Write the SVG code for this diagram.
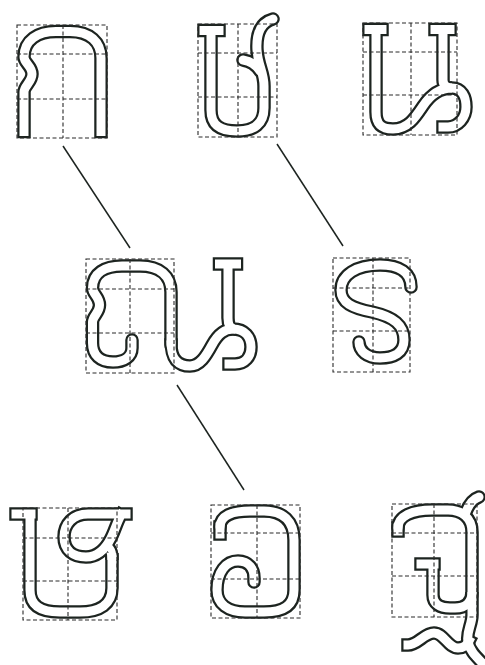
<svg xmlns="http://www.w3.org/2000/svg" xmlns:xlink="http://www.w3.org/1999/xlink" width="485" height="665" viewBox="0 0 485 665">
<style>
.o{fill:none;stroke:#1d2420;stroke-width:13.5;stroke-linejoin:round}
.i{fill:none;stroke:#fff;stroke-width:9;stroke-linejoin:round}
.grid{fill:none;stroke:#2a2a2a;stroke-width:1.1;stroke-dasharray:4 2.5}
.conn{stroke:#1d2420;stroke-width:1.5;fill:none}
</style>
<defs>
<g id="s1">
<path stroke-linecap="square" d="M24 131.5 L24 92 C24 86 32 82 32 74 C32 66 24 63 24 57 C24 40 38 31.5 56 31.5 L70 31.5 C90 31.5 101 42 101 58 L101 131.5"/>
</g>
<g id="s2">
<path stroke-linecap="square" d="M204 30.5 L219 30.5"/>
<path stroke-linecap="round" d="M211 30.5 L211 110 C211 126 221 131 237 131 C254 131 264 124 264 108 L264 86 C264 72 258 66 257 50 C256 32 262 22 273 19"/>
<path stroke-linecap="round" d="M260 71 C256 65 250 61 243 60"/>
</g>
<g id="s3">
<path stroke-linecap="square" d="M369 29.5 L382 29.5 M435 29.5 L450 29.5"/>
<path stroke-linecap="square" d="M376 29.5 L376 112 C376 126 383 129 393 129 C408 129 415 118 423 106 C431 94 440 88 452 88 C462 88 466 97 466 107 C466 118 458 127 448 127 L443 127"/>
<path stroke-linecap="butt" d="M443 29.5 L443 80 C443 85 446 88 452 88"/>
</g>
<g id="s4">
<path stroke-linecap="square" d="M219.5 264 L236.5 264"/>
<path stroke-linecap="round" d="M132 340 L132 348 C132 357 124 362 113 362 C100 362 92.5 355 92.5 343 L92.5 322 C92.5 316 99.5 313 99.5 305 C99.5 297 92.5 294 92.5 288 C92.5 273 105 266 122 266 L140 266 C160 266 171 276 171 292 L171 345"/>
<path stroke-linecap="square" d="M171 345 C171 358 178 366 190 366 C200 366 206 356 212 345 C218 334 224 329 233 329 C245 329 251 337 251 347 C251 357 245 364 235 364 L229 364"/>
<path stroke-linecap="butt" d="M228 264 L228 318 C228 324 230 329 235 329"/>
</g>
<g id="s5">
<path stroke-linecap="round" d="M411 287 C411 273 400 265 380 265 C356 265 341 275 341 290 C341 303 352 308 372 312 C394 317 404 325 404 340 C404 353 394 358 380 358 C367 358 359 351 359 342"/>
</g>
<g id="s6">
<path stroke-linecap="square" d="M16 514 L31 514"/>
<path stroke-linecap="butt" d="M30 514 L30 590 C30 605 40 612 60 612 L80 612 C100 612 112 604 112 588 L112 553"/>
<path stroke-linecap="square" d="M126 514 L88 514 C73 514 64 524 64 537 C64 550 73 557 86 557 C98 557 106 548 111 538 C115 530 117 522 121 515"/>
<path stroke-linecap="butt" d="M112 560 C112 552 110 546 106 549"/>
</g>
<g id="s7">
<path stroke-linecap="square" d="M220 534 L220 527"/>
<path stroke-linecap="round" d="M220 527 C220 516 232 511 250 511 L264 511 C283 511 294 521 294 540 L294 590 C294 605 284 612 264 612 L245 612 C228 612 217 604 217 590 C217 572 226 561 238 561 C249 561 254 569 254 578 L254 582"/>
</g>
<g id="s8">
<path stroke-linecap="square" d="M398 531 L398 528"/>
<path stroke-linecap="round" d="M398 528 C398 516 412 510 432 510 L448 510 C462 510 472 518 472 532 L472 615 C472 625 466 632 468 642 C470 652 478 658 487 668"/>
<path stroke-linecap="round" d="M466 512 C469 504 473 499 479 497"/>
<path stroke-linecap="square" d="M421 564 L434 564"/>
<path stroke-linecap="butt" d="M433 564 L433 595 C433 604 440 608 450 608 L455 608 C466 608 472 602 472 592"/>
<path stroke-linecap="square" d="M408 645 C418 645 424 633 434 633 C444 633 448 648 458 648 C464 648 467 645 469 641"/>
</g>
</defs>

<g id="connectors">
<line class="conn" x1="63" y1="146" x2="130" y2="248"/>
<line class="conn" x1="277" y1="144" x2="343" y2="246"/>
<line class="conn" x1="177" y1="385" x2="244" y2="490"/>
</g>

<g id="glyph1">
<use href="#s1" class="o"/><use href="#s1" class="i"/>
<g class="grid"><rect x="17" y="25" width="90" height="113"/><path d="M63 25V138M17 54H107M17 99H107"/></g>
</g>
<g id="glyph2">
<use href="#s2" class="o"/><use href="#s2" class="i"/>
<g class="grid"><rect x="198" y="24" width="79" height="113"/><path d="M238 24V137M198 53H277M198 97H277"/></g>
</g>
<g id="glyph3">
<use href="#s3" class="o"/><use href="#s3" class="i"/>
<g class="grid"><rect x="363" y="23" width="94" height="112"/><path d="M411 23V135M363 52H457M363 95H457"/></g>
</g>
<g id="glyph4">
<use href="#s4" class="o"/><use href="#s4" class="i"/>
<g class="grid"><rect x="86" y="259" width="88" height="114"/><path d="M130 259V373M86 289H174M86 333H174"/></g>
</g>
<g id="glyph5">
<use href="#s5" class="o"/><use href="#s5" class="i"/>
<g class="grid"><rect x="333" y="258" width="77" height="114"/><path d="M373 258V372M333 288H410M333 331H410"/></g>
</g>
<g id="glyph6">
<use href="#s6" class="o"/><use href="#s6" class="i"/>
<g class="grid"><rect x="23" y="508" width="94" height="112"/><path d="M68 508V620M23 538H117M23 581H117"/></g>
</g>
<g id="glyph7">
<use href="#s7" class="o"/><use href="#s7" class="i"/>
<g class="grid"><rect x="211" y="505" width="89" height="113"/><path d="M257 505V618M211 533H300M211 579H300"/></g>
</g>
<g id="glyph8">
<use href="#s8" class="o"/><use href="#s8" class="i"/>
<g class="grid"><rect x="392" y="504" width="85" height="113"/><path d="M434 504V617M392 533H477M392 576H477"/></g>
</g>
</svg>
